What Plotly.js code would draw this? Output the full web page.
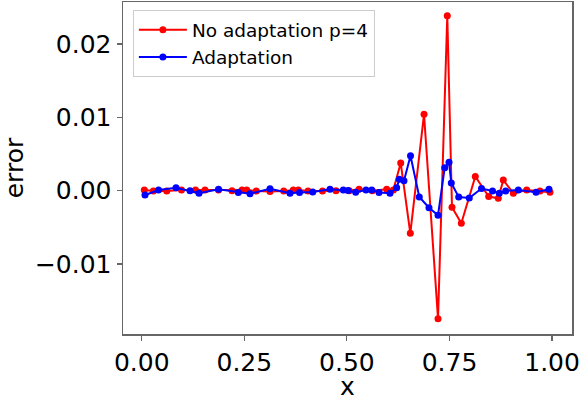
<!DOCTYPE html>
<html>
<head>
<meta charset="utf-8">
<script src="https://cdn.plot.ly/plotly-3.0.1.min.js"></script>
<style>html,body{margin:0;padding:0;background:#fff;}#chart{width:579px;height:401px;}</style>
</head>
<body>
<div id="chart"></div>
<script>
const seriesNames = ["No adaptation p=4", "Adaptation"];

const xNoAdapt = [0.0063, 0.0283, 0.0609, 0.0970, 0.1311, 0.1542, 0.1871, 0.2200, 0.2444, 0.2558,
  0.2792, 0.3126, 0.3460, 0.3694, 0.3816, 0.4052, 0.4405, 0.4734, 0.5058, 0.5295,
  0.5619, 0.5970, 0.6131, 0.6311, 0.6545, 0.6879, 0.7220, 0.7446, 0.7561, 0.7788,
  0.8129, 0.8455, 0.8689, 0.8811, 0.9055, 0.9381, 0.9705, 0.9949];
const yNoAdapt = [0.0001, -0.00004, -0.00004, 0.0001, 0.0001, 0.0001, 0.0001, 0.0, 0.0001, 0.0001,
  -0.00004, -0.0001, -0.00004, 0.0001, 0.0001, -0.00004, -0.00004, 0.0, 0.0, 0.0002,
  0.0, 0.0002, 0.0001, 0.00378, -0.00581, 0.01042, -0.01745, 0.02386, -0.00226, -0.00444,
  0.00194, -0.00079, -0.00104, 0.00146, -0.00035, 0.0001, -0.00004, -0.00022];

const xAdapt = [0.0080, 0.0409, 0.0836, 0.1177, 0.1396, 0.1871, 0.2354, 0.2639, 0.3126, 0.3614,
  0.3845, 0.4167, 0.4588, 0.4912, 0.5027, 0.5214, 0.5465, 0.5604, 0.5782, 0.6050,
  0.6213, 0.6277, 0.6391, 0.6550, 0.6764, 0.7000, 0.7220, 0.7383, 0.7488, 0.7544,
  0.7724, 0.7982, 0.8280, 0.8548, 0.8713, 0.8869, 0.9177, 0.9608, 0.9924];
const yAdapt = [-0.00059, 0.0001, 0.00041, 0.0, -0.00035, 0.0002, -0.00025, -0.00042, 0.00027, -0.00035,
  -0.00025, -0.00018, 0.0002, 0.0001, 0.00003, -0.00022, 0.0001, 0.0001, -0.00025, -0.00035,
  0.00041, 0.00157, 0.00136, 0.00477, -0.00086, -0.00232, -0.00335, 0.00314, 0.00387, 0.00105,
  -0.00086, -0.001, 0.0003, -0.00004, -0.00035, -0.00004, 0.0001, -0.00022, 0.00019];

const xTickVals = [0, 0.25, 0.5, 0.75, 1.0];
const xTickText = ["0.00", "0.25", "0.50", "0.75", "1.00"];
const yTickVals = [-0.01, 0, 0.01, 0.02];
const yTickText = ["\u22120.01", "0.00", "0.01", "0.02"];

const font = "DejaVu Sans, sans-serif";

const traces = [
  {x: xNoAdapt, y: yNoAdapt, name: seriesNames[0], type: "scatter", mode: "lines+markers",
   line: {color: "#ff0000", width: 2}, marker: {color: "#ff0000", size: 7}},
  {x: xAdapt, y: yAdapt, name: seriesNames[1], type: "scatter", mode: "lines+markers",
   line: {color: "#0000ff", width: 2}, marker: {color: "#0000ff", size: 7}}
];

const axisCommon = {
  showgrid: false, zeroline: false, showline: true, mirror: true,
  linecolor: "#666", linewidth: 1.5,
  ticks: "outside", ticklen: 5, tickcolor: "#666", tickwidth: 1.2,
  ticklabeloverflow: "allow",
  tickfont: {family: font, size: 25, color: "#000"}
};

const layout = {
  width: 579, height: 401,
  margin: {l: 123, r: 7, t: 2, b: 67},
  paper_bgcolor: "#fff", plot_bgcolor: "#fff",
  font: {family: font, color: "#000"},
  showlegend: true,
  legend: {x: 0.022, y: 0.975, xanchor: "left", yanchor: "top",
    font: {family: font, size: 18.5, color: "#000"},
    bgcolor: "rgba(255,255,255,0.8)", bordercolor: "#ccc", borderwidth: 1,
    itemwidth: 48, tracegroupgap: 0},
  xaxis: Object.assign({}, axisCommon, {
    range: [-0.0456, 1.0485], tickvals: xTickVals, ticktext: xTickText,
    title: {text: "x", font: {family: font, size: 25, color: "#000"}, standoff: 10}
  }),
  yaxis: Object.assign({}, axisCommon, {
    range: [-0.01954, 0.02573], tickvals: yTickVals, ticktext: yTickText,
    title: {text: "error", font: {family: font, size: 25, color: "#000"}, standoff: 4}
  })
};

Plotly.newPlot("chart", traces, layout, {displayModeBar: false, staticPlot: true});
</script>
</body>
</html>
